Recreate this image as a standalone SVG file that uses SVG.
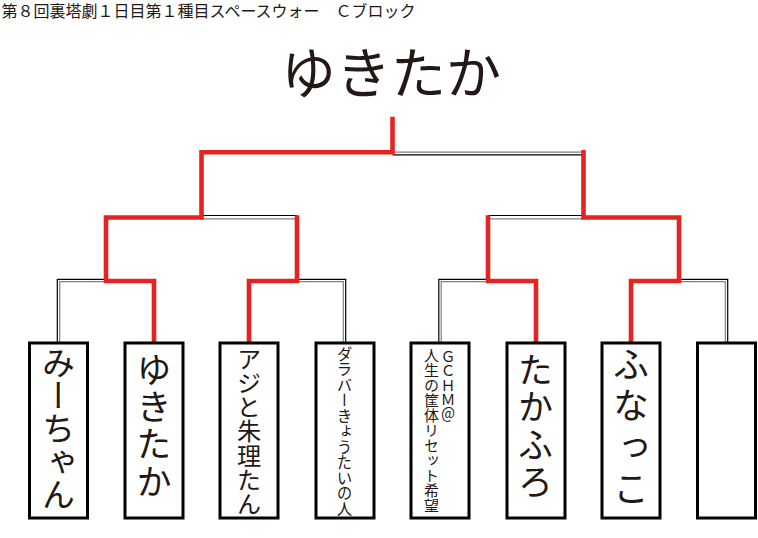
<svg xmlns="http://www.w3.org/2000/svg" width="758" height="538" viewBox="0 0 758 538">
<style>
text{font-family:"Noto Sans CJK JP","Noto Sans CJK SC",sans-serif;fill:#231815}
.v{writing-mode:vertical-rl}
.box{fill:#fff;stroke:#000;stroke-width:3}
.red{fill:none;stroke:#e52421;stroke-width:4.6;stroke-linejoin:miter;stroke-linecap:square}
.k{fill:none;stroke:#000;stroke-width:1.2}
.g{fill:none;stroke:#808080;stroke-width:1.2}
</style>
<rect width="758" height="538" fill="#fff"/>
<text id="title" x="1.5" y="17" font-size="16">第８回裏塔劇１日目第１種目スペースウォー　Ｃブロック</text>
<g id="winner"><text x="281" y="93" font-size="55">ゆきたか</text></g>
<g id="connectors">
<path class="k" d="M57.3,343V279.3H106"/>
<path class="g" d="M59.7,343V281.7H106"/>
<path class="k" d="M345.7,343V279.3H297"/>
<path class="g" d="M343.3,343V281.7H297"/>
<path class="k" d="M201.5,215.5H297"/>
<path class="g" d="M201.5,218.8H297"/>
<path class="g" d="M392.5,152.2H584"/>
<path class="k" d="M392.5,154.8H584"/>
<path class="k" d="M488,215.5H583.5"/>
<path class="g" d="M488,218.8H583.5"/>
<path class="k" d="M438.8,343V279.3H488"/>
<path class="g" d="M441.2,343V281.7H488"/>
<path class="k" d="M727.7,343V279.3H679"/>
<path class="g" d="M725.3,343V281.7H679"/>
<path class="red" d="M154,341V281H106V217.5H201.5V152.3H392.5V119"/>
<path class="red" d="M249,341V281H297V217.5"/>
<path class="red" d="M536,341V281H488V217.5"/>
<path class="red" d="M631,341V281H679V217.5H583.5V152.3"/>
</g>
<g id="n1"><rect class="box" x="29.5" y="343" width="58" height="175"/><text class="v" x="58.5" y="346" font-size="33">みーちゃん</text></g>
<g id="n2"><rect class="box" x="125" y="343" width="58" height="175"/><text class="v" x="154" y="352" font-size="35" letter-spacing="2.3">ゆきたか</text></g>
<g id="n3"><rect class="box" x="220" y="343" width="58" height="175"/><text class="v" x="249" y="346.5" font-size="24.2">アジと朱理たん</text></g>
<g id="n4"><rect class="box" x="316" y="343" width="58" height="175"/><text class="v" x="344.5" y="346" font-size="15.5">ダラバーきょうたいの人</text></g>
<g id="n5"><rect class="box" x="411" y="343" width="58" height="175"/><text class="v" x="448" y="349" font-size="14.6">ＧＣＨＭ＠</text><text class="v" x="431.5" y="348" font-size="15">人生の筐体リセット希望</text></g>
<g id="n6"><rect class="box" x="507" y="343" width="58" height="175"/><text class="v" x="535.5" y="352" font-size="35" letter-spacing="2.5">たかふろ</text></g>
<g id="n7"><rect class="box" x="602" y="343" width="58" height="175"/><text class="v" x="631" y="346" font-size="36" letter-spacing="5.5">ふなっこ</text></g>
<g id="n8"><rect class="box" x="697.5" y="343" width="58" height="175"/></g>
</svg>
